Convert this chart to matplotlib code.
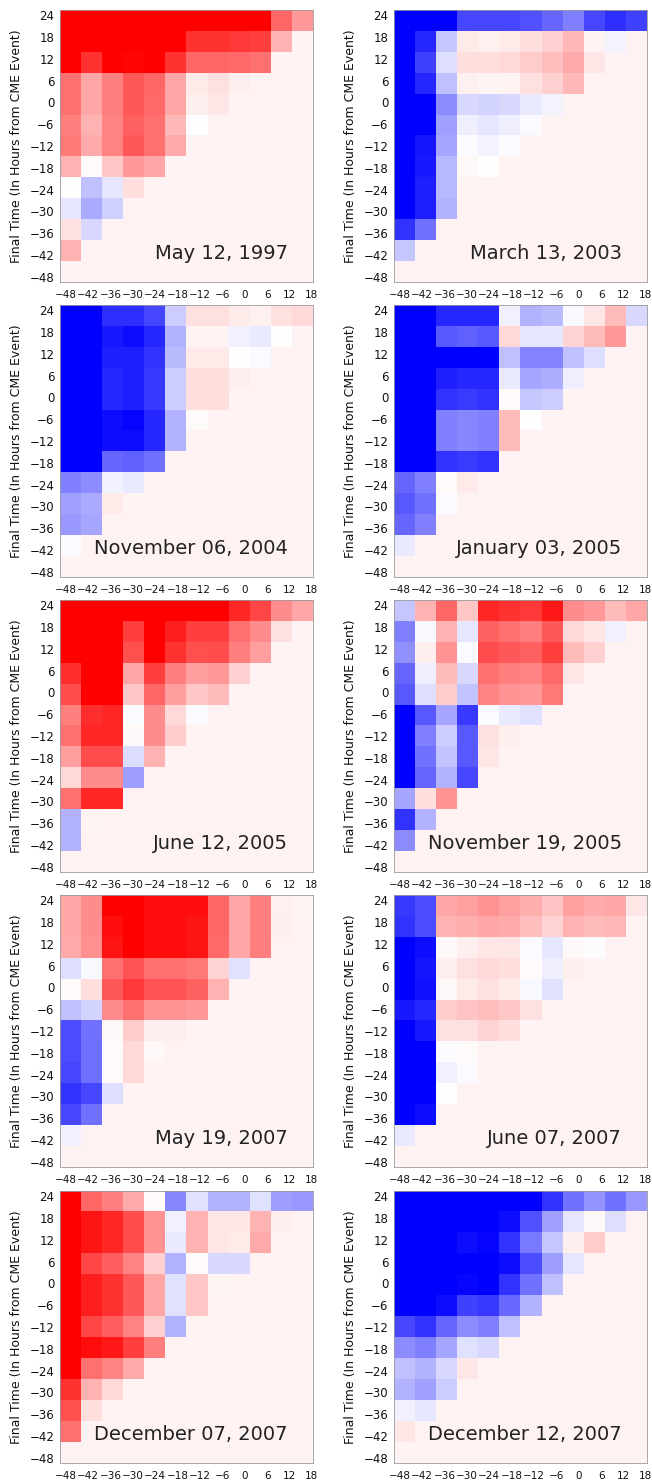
import numpy as np
import matplotlib
matplotlib.use("Agg")
import matplotlib.pyplot as plt
from matplotlib.colors import LinearSegmentedColormap

# ---------------- data ----------------
x_ticks = [-48, -42, -36, -30, -24, -18, -12, -6, 0, 6, 12, 18]
y_ticks = [24, 18, 12, 6, 0, -6, -12, -18, -24, -30, -36, -42, -48]
BG = 0.05  # value of the unfilled (lower-right) cells

titles = ["May 12, 1997", "March 13, 2003", "November 06, 2004", "January 03, 2005",
          "June 12, 2005", "November 19, 2005", "May 19, 2007", "June 07, 2007",
          "December 07, 2007", "December 12, 2007"]

# Each list: row r (final time 24, 18, ..., -42) holds 12 - r values (start time -48 ...)
may_1997 = [
    [1, 1, 1, 1, 1, 1, 1, 1, 1, 1, 0.6, 0.4],
    [1, 1, 1, 1, 1, 1, 0.8, 0.8, 0.78, 0.75, 0.3],
    [1, 0.8, 1, 0.98, 1, 0.8, 0.6, 0.6, 0.58, 0.55],
    [0.55, 0.35, 0.5, 0.65, 0.6, 0.35, 0.08, 0.12, 0.07],
    [0.55, 0.35, 0.5, 0.65, 0.58, 0.35, 0.07, 0.1],
    [0.5, 0.3, 0.48, 0.62, 0.55, 0.28, 0.0],
    [0.52, 0.33, 0.48, 0.65, 0.55, 0.33],
    [0.3, 0.02, 0.22, 0.4, 0.35],
    [0.0, -0.25, -0.1, 0.13],
    [-0.1, -0.33, -0.18],
    [0.12, -0.15],
    [0.3],
]
mar_2003 = [
    [-1, -1, -1, -0.72, -0.72, -0.72, -0.68, -0.6, -0.5, -0.72, -0.82, -0.75],
    [-1, -0.85, -0.22, 0.08, 0.06, 0.08, 0.13, 0.18, 0.28, 0.05, -0.04],
    [-1, -0.75, -0.13, 0.13, 0.13, 0.15, 0.2, 0.25, 0.33, 0.1],
    [-1, -0.85, -0.25, 0.06, 0.04, 0.05, 0.12, 0.18, 0.28],
    [-1, -1, -0.45, -0.15, -0.17, -0.15, -0.08, -0.04],
    [-1, -1, -0.37, -0.07, -0.1, -0.07, -0.02],
    [-1, -0.92, -0.35, -0.02, -0.04, -0.02],
    [-1, -0.9, -0.28, 0.03, 0.0],
    [-1, -0.88, -0.28, 0.04],
    [-1, -0.88, -0.3],
    [-0.8, -0.55],
    [-0.22],
]
nov_2004 = [
    [-1, -1, -0.82, -0.82, -0.72, -0.2, 0.12, 0.12, 0.08, 0.06, 0.12, 0.15],
    [-1, -1, -0.9, -0.95, -0.85, -0.3, 0.05, 0.05, -0.06, -0.08, 0.0],
    [-1, -1, -0.88, -0.88, -0.8, -0.27, 0.08, 0.08, 0.0, -0.02],
    [-1, -1, -0.85, -0.88, -0.78, -0.2, 0.13, 0.13, 0.07],
    [-1, -1, -0.85, -0.88, -0.78, -0.2, 0.13, 0.13],
    [-1, -1, -0.95, -0.98, -0.85, -0.3, 0.02],
    [-1, -1, -0.95, -0.95, -0.85, -0.3],
    [-1, -1, -0.6, -0.62, -0.55],
    [-0.5, -0.45, -0.05, -0.08],
    [-0.37, -0.33, 0.08],
    [-0.4, -0.35],
    [-0.02],
]
jan_2005 = [
    [-1, -1, -0.85, -0.85, -0.85, -0.06, -0.3, -0.27, -0.03, 0.1, 0.27, -0.15],
    [-1, -1, -0.65, -0.62, -0.65, 0.15, -0.1, -0.1, 0.17, 0.27, 0.4],
    [-1, -1, -1, -1, -1, -0.25, -0.48, -0.48, -0.25, -0.13],
    [-1, -1, -0.88, -0.85, -0.85, -0.08, -0.35, -0.32, -0.07],
    [-1, -1, -0.8, -0.77, -0.8, 0.02, -0.22, -0.2],
    [-1, -1, -0.5, -0.47, -0.5, 0.27, 0.0],
    [-1, -1, -0.5, -0.47, -0.5, 0.27],
    [-1, -1, -0.8, -0.77, -0.8],
    [-0.6, -0.5, 0.02, 0.08],
    [-0.65, -0.55, -0.02],
    [-0.6, -0.5],
    [-0.08],
]
jun_2005 = [
    [1, 1, 1, 1, 1, 1, 1, 1, 0.85, 0.72, 0.45, 0.35],
    [1, 1, 1, 0.75, 1, 0.88, 0.75, 0.75, 0.55, 0.45, 0.12],
    [1, 1, 1, 0.68, 1, 0.8, 0.68, 0.7, 0.5, 0.38],
    [0.82, 1, 1, 0.35, 0.75, 0.5, 0.38, 0.4, 0.18],
    [0.7, 1, 1, 0.22, 0.6, 0.38, 0.22, 0.27],
    [0.5, 0.82, 0.85, -0.02, 0.45, 0.15, -0.02],
    [0.55, 0.85, 0.85, 0.03, 0.45, 0.2],
    [0.38, 0.7, 0.7, -0.14, 0.3],
    [0.15, 0.45, 0.45, -0.38],
    [0.55, 0.85, 0.85],
    [-0.3, 0.04],
    [-0.3],
]
nov_2005 = [
    [-0.22, 0.3, 0.6, 0.22, 0.85, 0.8, 0.78, 0.9, 0.45, 0.4, 0.27, 0.35],
    [-0.5, -0.03, 0.3, -0.1, 0.62, 0.55, 0.5, 0.65, 0.15, 0.1, -0.06],
    [-0.43, 0.07, 0.42, -0.02, 0.7, 0.65, 0.62, 0.75, 0.27, 0.18],
    [-0.6, -0.07, 0.27, -0.15, 0.55, 0.5, 0.48, 0.58, 0.1],
    [-0.65, -0.13, 0.2, -0.23, 0.48, 0.42, 0.4, 0.52],
    [-1, -0.65, -0.35, -0.78, -0.02, -0.08, -0.12],
    [-1, -0.5, -0.2, -0.65, 0.12, 0.07],
    [-1, -0.55, -0.23, -0.65, 0.1],
    [-1, -0.6, -0.3, -0.72],
    [-0.35, 0.13, 0.42],
    [-0.8, -0.3],
    [-0.45],
]
may_2007 = [
    [0.35, 0.45, 1.0, 1.0, 0.95, 0.95, 0.95, 0.6, 0.35, 0.5, 0.06, 0.04],
    [0.35, 0.45, 0.95, 1.0, 0.95, 0.95, 0.92, 0.6, 0.35, 0.5, 0.07],
    [0.33, 0.43, 0.92, 1.0, 0.95, 0.95, 0.92, 0.58, 0.35, 0.5],
    [-0.13, -0.03, 0.55, 0.67, 0.55, 0.55, 0.52, 0.17, -0.12],
    [0.02, 0.13, 0.65, 0.77, 0.67, 0.67, 0.62, 0.3],
    [-0.25, -0.17, 0.45, 0.55, 0.42, 0.42, 0.4],
    [-0.7, -0.55, 0.03, 0.2, 0.07, 0.07],
    [-0.7, -0.57, 0.02, 0.15, 0.03],
    [-0.72, -0.57, 0.02, 0.15],
    [-0.8, -0.72, -0.13],
    [-0.72, -0.55],
    [-0.06],
]
jun_2007 = [
    [-0.78, -0.7, 0.35, 0.37, 0.42, 0.37, 0.32, 0.23, 0.37, 0.33, 0.35, 0.1],
    [-0.8, -0.7, 0.3, 0.32, 0.35, 0.33, 0.25, 0.17, 0.3, 0.27, 0.28],
    [-1, -0.95, 0.03, 0.07, 0.1, 0.1, -0.02, -0.1, 0.03, -0.01],
    [-1, -0.92, 0.07, 0.12, 0.15, 0.13, 0.02, -0.07, 0.07],
    [-1, -0.93, 0.03, 0.08, 0.12, 0.08, -0.03, -0.12],
    [-0.9, -0.85, 0.2, 0.23, 0.25, 0.22, 0.12],
    [-1, -0.9, 0.12, 0.12, 0.17, 0.13],
    [-1, -1, -0.02, 0.02, 0.05],
    [-1, -1, -0.06, -0.02],
    [-1, -1, 0.0],
    [-1, -0.95],
    [-0.08],
]
dec_2007a = [
    [1.0, 0.6, 0.5, 0.33, 0.02, -0.47, -0.12, -0.3, -0.3, -0.12, -0.38, -0.4],
    [1.0, 0.92, 0.85, 0.7, 0.42, -0.06, 0.3, 0.1, 0.1, 0.3, 0.07],
    [1.0, 0.92, 0.85, 0.7, 0.42, -0.08, 0.3, 0.1, 0.08, 0.33],
    [1.0, 0.72, 0.63, 0.48, 0.18, -0.3, 0.02, -0.15, -0.15],
    [1.0, 0.88, 0.8, 0.65, 0.35, -0.12, 0.22, 0.04],
    [1.0, 0.88, 0.8, 0.65, 0.35, -0.12, 0.22],
    [1.0, 0.72, 0.63, 0.48, 0.18, -0.3],
    [1.0, 0.95, 0.9, 0.75, 0.5],
    [1.0, 0.55, 0.48, 0.33],
    [0.8, 0.3, 0.15],
    [0.68, 0.13],
    [0.55],
]
dec_2007b = [
    [-1, -1, -1, -1, -1, -1, -1, -0.8, -0.55, -0.42, -0.55, -0.4],
    [-1, -1, -1, -1, -1, -0.95, -0.68, -0.37, -0.1, 0.03, -0.13],
    [-1, -1, -1, -0.95, -0.98, -0.8, -0.52, -0.22, 0.07, 0.2],
    [-1, -1, -1, -1, -1, -0.95, -0.7, -0.38, -0.1],
    [-1, -1, -1, -0.97, -1, -0.8, -0.55, -0.25],
    [-1, -1, -0.95, -0.75, -0.78, -0.58, -0.3],
    [-0.72, -0.8, -0.6, -0.45, -0.5, -0.25],
    [-0.45, -0.5, -0.35, -0.12, -0.15],
    [-0.25, -0.3, -0.15, 0.1],
    [-0.3, -0.37, -0.2],
    [-0.06, -0.1],
    [0.1],
]

panels = [may_1997, mar_2003, nov_2004, jan_2005, jun_2005,
          nov_2005, may_2007, jun_2007, dec_2007a, dec_2007b]

# ---------------- figure ----------------
W, H = 652, 1480
fig = plt.figure(figsize=(W / 100, H / 100), dpi=100)

cmap = LinearSegmentedColormap.from_list("bwr_idl", [(0, 0, 1), (1, 1, 1), (1, 0, 0)])

xlim = (-49.5, 18.3)
ylim = (-49.4, 25.4)

col_left = [60, 394]
ax_w, ax_h = 253, 272
row_top = [10, 305, 600, 895, 1191]

for i, (rows, title) in enumerate(zip(panels, titles)):
    r, c = divmod(i, 2)
    left = col_left[c] / W
    bottom = 1 - (row_top[r] + ax_h) / H
    ax = fig.add_axes([left, bottom, ax_w / W, ax_h / H])

    grid = np.full((len(y_ticks), len(x_ticks)), BG)
    for ri, vals in enumerate(rows):
        grid[ri, :len(vals)] = vals

    ax.imshow(grid, cmap=cmap, vmin=-1, vmax=1, interpolation="nearest",
              extent=(xlim[0], xlim[1], ylim[0], ylim[1]), aspect="auto", origin="upper")
    ax.set_xlim(xlim)
    ax.set_ylim(ylim)
    ax.set_xticks(x_ticks)
    ax.set_xticklabels([f"{v}".replace("-", "\u2212") for v in x_ticks], fontsize=7.5)
    ax.set_yticks(y_ticks)
    ax.set_yticklabels([f"{v}".replace("-", "\u2212") for v in y_ticks], fontsize=8.5)
    ax.tick_params(length=0, pad=4, colors="#111111")
    ax.tick_params(axis="x", pad=6)
    for s in ax.spines.values():
        s.set_linewidth(0.6)
        s.set_color("#9a9a9a")
    ax.set_ylabel("Final Time (In Hours from CME Event)", fontsize=9, labelpad=5, color="#111111")
    ax.text(0.9, 0.105, title, transform=ax.transAxes, ha="right", va="center",
            fontsize=14, color="#222222")

fig.savefig("out.png", dpi=100)
